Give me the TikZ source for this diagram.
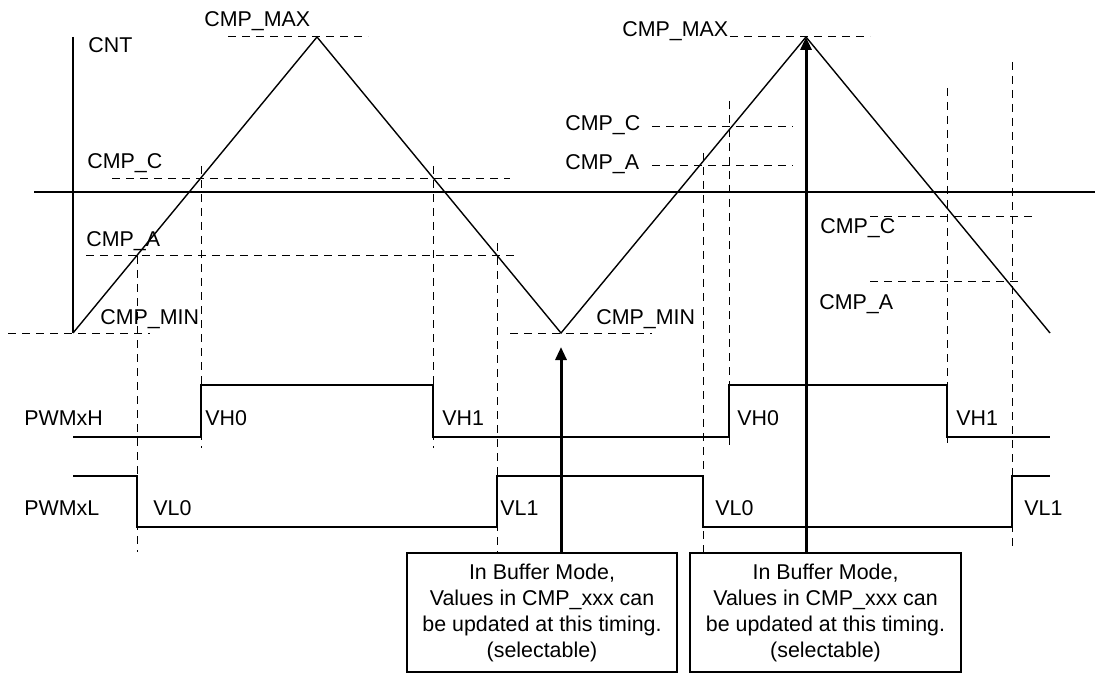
\documentclass[tikz,border=0pt]{standalone}
\usepackage{fontspec}
\setmainfont{Liberation Sans}
\usetikzlibrary{arrows.meta}

\begin{document}
\begin{tikzpicture}[x=0.5pt, y=-0.5pt, >={Triangle[length=6.5pt,width=5.5pt]},
    lbl/.style={anchor=base west, inner sep=0pt, font=\fontsize{10.7}{13}\selectfont},
    guide/.style={dash pattern=on 4pt off 3pt, line width=0.5pt},
    wave/.style={line width=0.7pt},
    notebox/.style={draw, line width=0.7pt, minimum height=59.5pt, inner sep=0pt,
        align=center, font=\fontsize{10.7}{13}\selectfont},
    updarrow/.style={->, line width=1.5pt}]
    \useasboundingbox (0,0) rectangle (1095,673);

    % counter axis and zero line
    \draw[wave] (73,37) -- (73,333);
    \draw[wave] (34,192) -- (1095,192);
    \coordinate (s0) at (73,333);
    \coordinate (p1) at (317,37);
    \coordinate (v1) at (561,333);
    \coordinate (p2) at (806,37);
    \coordinate (e0) at (1050,333);
    \draw[wave] (s0) -- (p1) -- (v1) -- (p2) -- (e0);

    % compare levels
    \draw[guide] (228,37) -- (368,37)   (730,37) -- (870,37);
    \draw[guide] (112,179) -- (510,179)  (86,256) -- (519,256);
    \draw[guide] (8,333) -- (150,333)    (510,333) -- (652,333);
    \draw[guide] (652,127) -- (793,127)  (652,166) -- (793,166);
    \draw[guide] (870,217) -- (1035,217) (870,282) -- (1023,282);
    % switching instants
    \draw[guide] (137,256) -- (137,552)  (201,166) -- (201,448);
    \draw[guide] (433,166) -- (433,448)  (497,243) -- (497,553);
    \draw[guide] (703,153) -- (703,553)  (729,101) -- (729,447);
    \draw[guide] (947,88) -- (947,443)   (1012,62) -- (1012,550);

    \node[lbl] (cnt) at (88,53) {CNT};
    \node[lbl] (max1) at (204,27) {CMP\_MAX};
    \node[lbl] (max2) at (622,37) {CMP\_MAX};
    \node[lbl] (cmpc1) at (87,169) {CMP\_C};
    \node[lbl] (cmpa1) at (86,247) {CMP\_A};
    \node[lbl] (min1) at (100,324) {CMP\_MIN};
    \node[lbl] (min2) at (596,324) {CMP\_MIN};
    \node[lbl] (cmpc2) at (565,131) {CMP\_C};
    \node[lbl] (cmpa2) at (565,170) {CMP\_A};
    \node[lbl] (cmpc3) at (820,234) {CMP\_C};
    \node[lbl] (cmpa3) at (819,309) {CMP\_A};

    % outputs
    \node[lbl] (pwmh) at (24,425) {PWMxH};
    \node[lbl] (pwml) at (24,515) {PWMxL};
    \draw[wave] (73,437) -- (201,437) -- (201,385) -- (433,385) -- (433,437)
        -- (729,437) -- (729,385) -- (947,385) -- (947,437) -- (1050,437);
    \draw[wave] (73,476) -- (137,476) -- (137,527) -- (497,527) -- (497,476)
        -- (703,476) -- (703,527) -- (1012,527) -- (1012,476) -- (1050,476);
    \node[lbl] (vh0a) at (205,425) {VH0};
    \node[lbl] (vh1a) at (442,425) {VH1};
    \node[lbl] (vh0b) at (737,425) {VH0};
    \node[lbl] (vh1b) at (956,425) {VH1};
    \node[lbl] (vl0a) at (153,515) {VL0};
    \node[lbl] (vl1a) at (500,515) {VL1};
    \node[lbl] (vl0b) at (715,515) {VL0};
    \node[lbl] (vl1b) at (1024,515) {VL1};

    % buffer update notes
    \node[notebox, minimum width=135pt] (buf1) at (542,612.5)
        {In Buffer Mode,\\ Values in CMP\_xxx can\\ be updated at this timing.\\ (selectable)};
    \node[notebox, minimum width=135.5pt] (buf2) at (825.5,612.5)
        {In Buffer Mode,\\ Values in CMP\_xxx can\\ be updated at this timing.\\ (selectable)};
    \draw[updarrow] (v1 |- buf1.north) -- ([yshift=-7pt]v1);
    \draw[updarrow] (p2 |- buf2.north) -- (p2);
\end{tikzpicture}
\end{document}
